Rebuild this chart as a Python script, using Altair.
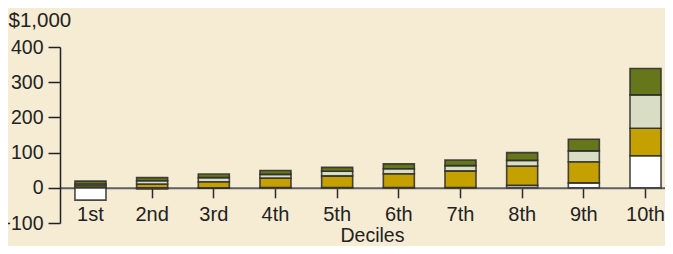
import altair as alt
import pandas as pd

deciles = ["1st", "2nd", "3rd", "4th", "5th", "6th", "7th", "8th", "9th", "10th"]
series = ["Component 1", "Component 2", "Component 3", "Component 4"]
colors = ["#FFFFFF", "#C4A000", "#D9DDC4", "#66761A"]

comp1 = [-35, -3, -1, 1, 1, 1, 1, 7, 14, 91]
comp2 = [6, 11, 17, 27, 33, 39, 47, 55, 60, 78]
comp3 = [5, 9, 12, 10, 13, 14, 15, 16, 31, 95]
comp4 = [8, 9, 10, 11, 11, 14, 16, 22, 33, 75]

y_ticks = [-100, 0, 100, 200, 300, 400]

rows = []
for k, (name, vals) in enumerate(zip(series, [comp1, comp2, comp3, comp4])):
    for d, v in zip(deciles, vals):
        rows.append({"decile": d, "series": name, "value": v, "order": k})
df = pd.DataFrame(rows)

chart = alt.Chart(df).mark_bar(
    stroke="#2a2a2a", strokeWidth=1.6, strokeOpacity=0.85
).encode(
    x=alt.X(
        "decile:N",
        sort=deciles,
        scale=alt.Scale(paddingInner=0.497, paddingOuter=0.1535, align=0.79),
        axis=alt.Axis(
            title="Deciles",
            offset=-35.2,
            labelAngle=0,
            domainColor="#5f5f5f",
            domainWidth=2,
            tickColor="#2a2a2a",
            tickWidth=1.5,
            tickSize=10,
            labelFont="Liberation Sans",
            labelFontSize=20,
            labelColor="#222222",
            labelBaseline="alphabetic",
            labelPadding=22.3,
            titleFont="Liberation Sans",
            titleFontSize=19.5,
            titleFontWeight="normal",
            titleColor="#222222",
            titleBaseline="alphabetic",
            titleAlign="center",
            titleX=312,
            titleY=54,
        ),
    ),
    y=alt.Y(
        "value:Q",
        stack="zero",
        scale=alt.Scale(domain=[-100, 400], nice=False, zero=True),
        axis=alt.Axis(
            values=y_ticks,
            title="$1,000",
            titleAngle=0,
            titleX=-52,
            titleY=-21,
            titleAlign="left",
            titleBaseline="alphabetic",
            titleFont="Liberation Sans",
            titleFontSize=20.5,
            titleFontWeight="normal",
            titleColor="#222222",
            domainColor="#222222",
            domainWidth=1.5,
            tickColor="#222222",
            tickWidth=1.5,
            tickSize=12,
            labelPadding=5,
            labelFont="Liberation Sans",
            labelFontSize=19.5,
            labelColor="#222222",
            grid=False,
        ),
    ),
    color=alt.Color(
        "series:N",
        scale=alt.Scale(domain=series, range=colors),
        legend=None,
    ),
    order=alt.Order("order:Q"),
).properties(
    width=605,
    height=176,
    autosize=alt.AutoSizeParams(type="none"),
    padding={"left": 52, "top": 39, "right": 0, "bottom": 23},
    background="#F6EBD3",
).configure_view(stroke=None)

chart.save("out.html", embed_options={"renderer": "svg", "actions": False})
